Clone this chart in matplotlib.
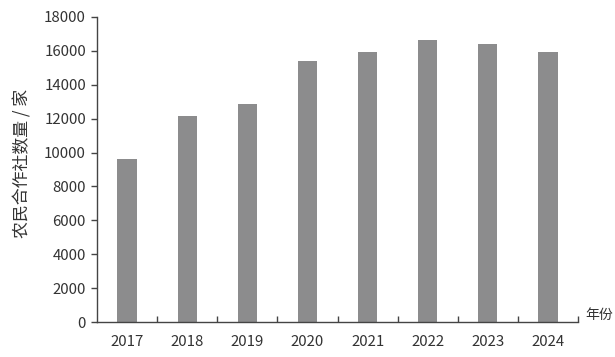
import matplotlib
matplotlib.use("Agg")
import matplotlib.pyplot as plt
import numpy as np

years = ["2017", "2018", "2019", "2020", "2021", "2022", "2023", "2024"]
counts = [9600, 12140, 12880, 15400, 15930, 16620, 16390, 15930]
y_ticks = [0, 2000, 4000, 6000, 8000, 10000, 12000, 14000, 16000, 18000]

plt.rcParams['font.family'] = ['Noto Sans CJK SC', 'DejaVu Sans']

fig = plt.figure(figsize=(6.15, 3.57), dpi=100)
ax = fig.add_axes([97/615, 1-322/357, (578-97)/615, (322-17)/357])

x = np.arange(len(years))
ax.bar(x, counts, width=0.32, color="#8c8c8d")

ax.set_xlim(-0.5, len(years) - 0.5)
ax.set_ylim(0, 18000)
ax.set_yticks(y_ticks)
ax.set_yticklabels([str(v) for v in y_ticks])
ax.set_xticks(x)
ax.set_xticklabels(years)
ax.set_xticks(np.arange(len(years)) + 0.5, minor=True)

axis_col = "#444444"
for s in ["top", "right"]:
    ax.spines[s].set_visible(False)
for s in ["left", "bottom"]:
    ax.spines[s].set_color(axis_col)
    ax.spines[s].set_linewidth(1.0)

ax.tick_params(axis="x", which="major", length=0, pad=9, labelsize=10.8, labelcolor="#333333")
ax.tick_params(axis="x", which="minor", direction="in", length=4, color=axis_col, width=1.0)
ax.tick_params(axis="y", which="major", direction="out", length=4, color=axis_col, width=1.0,
               labelsize=10.8, labelcolor="#333333", pad=4)

fig.text(22/615, 1-163/357, "农民合作社数量 / 家", fontsize=12.2, color="#333333",
         rotation=90, ha="center", va="center")
fig.text(585/615, 1-315/357, "年份", fontsize=10, color="#333333", va="center", ha="left")

fig.savefig("out.png", dpi=100)
